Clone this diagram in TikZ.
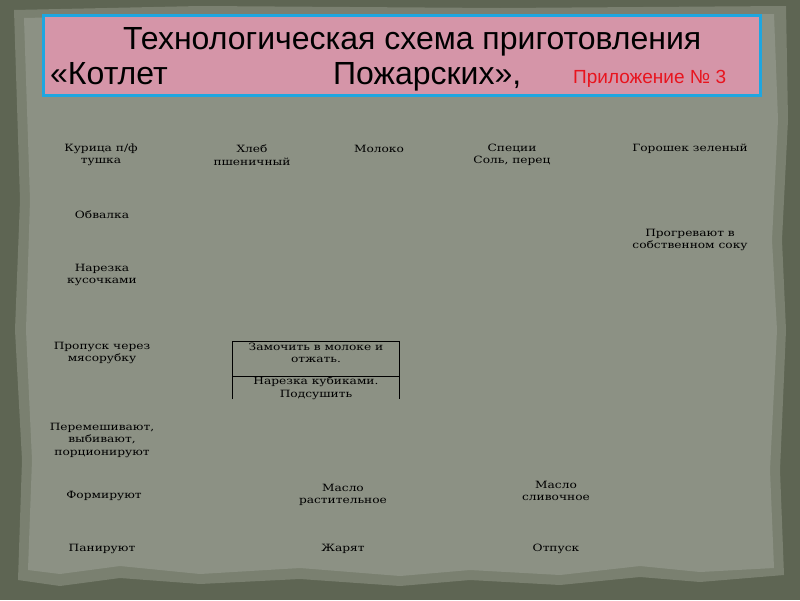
\documentclass[tikz,border=0pt]{standalone}
\usepackage{fontspec}
\setmainfont{DejaVu Serif}[FakeStretch=1.22]
\newfontfamily\titlefont{Liberation Sans}
\definecolor{frame}{HTML}{5E6553}
\definecolor{paper}{HTML}{8C9184}
\definecolor{paperdark}{HTML}{7A8070}
\definecolor{titlepink}{HTML}{D595A8}
\definecolor{titleblue}{HTML}{1EA6E0}
\definecolor{apxred}{HTML}{E8141E}
\tikzset{
  lbl/.style={inner sep=0pt, align=center, font=\fontsize{10}{12.5}\selectfont, text=black},
  boxline/.style={draw=black, line width=0.8pt},
  ttl/.style={anchor=base west, inner sep=0pt, font=\titlefont\fontsize{32}{36}\selectfont},
}
\begin{document}
\begin{tikzpicture}[x=1pt,y=-1pt]
\useasboundingbox (0,0) rectangle (800,600);
% background frame and torn paper
\fill[frame] (0,0) rectangle (800,600);
\fill[paperdark] (14,10) -- (200,6) -- (500,8) -- (786,6) -- (788,120) -- (782,240) -- (786,330) -- (780,470) -- (784,575)
  -- (700,582) -- (640,577) -- (560,585) -- (470,580) -- (400,586) -- (300,579) -- (200,584) -- (120,578) -- (60,586) -- (18,580)
  -- (22,460) -- (15,330) -- (20,200) -- cycle;
\fill[paper] (24,18) -- (200,14) -- (500,16) -- (774,14) -- (778,120) -- (772,240) -- (777,330) -- (770,470) -- (774,568)
  -- (700,572) -- (640,566) -- (560,575) -- (470,570) -- (400,576) -- (300,568) -- (200,574) -- (120,566) -- (60,574) -- (28,570)
  -- (32,460) -- (26,330) -- (30,200) -- cycle;
% title box
\node[draw=titleblue, line width=3pt, fill=titlepink, minimum width=717pt, minimum height=80pt, inner sep=0pt, anchor=north west] (title) at (41.5,13.5) {};
\node[ttl] (t1) at (123,49) {Технологическая схема приготовления};
\node[ttl] (t2) at (50,84) {«Котлет};
\node[ttl] (t3) at (333,84) {Пожарских»,};
\node[anchor=base west, inner sep=0pt, text=apxred, font=\titlefont\fontsize{19}{22}\selectfont] (t4) at (573,83) {Приложение № 3};
% ingredients row
\node[lbl] (chicken) at (101,155) {Курица п/ф\\тушка};
\node[lbl] (bread) at (252,155) {Хлеб\\пшеничный};
\node[lbl] (milk) at (379,149) {Молоко};
\node[lbl] (spice) at (512,155) {Специи\\Соль, перец};
\node[lbl] (peas) at (690,149) {Горошек зеленый};
% left column
\node[lbl] (debone) at (102,215) {Обвалка};
\node[lbl] (warm) at (690,240) {Прогревают в\\собственном соку};
\node[lbl] (cut) at (102,275) {Нарезка\\кусочками};
\node[lbl] (mince) at (102,353) {Пропуск через\\мясорубку};
\node[lbl] (mix) at (102,440) {Перемешивают,\\выбивают,\\порционируют};
\node[lbl] (form) at (104,496) {Формируют};
\node[lbl] (oil) at (343,495) {Масло\\растительное};
\node[lbl] (butter) at (556,491) {Масло\\сливочное};
\node[lbl] (bread2) at (102,549) {Панируют};
\node[lbl] (fry) at (343,549) {Жарят};
\node[lbl] (serve) at (556,549) {Отпуск};
% box with soaked bread
\coordinate (bxtl) at (232,341);
\coordinate (bxtr) at (399,341);
\coordinate (bxml) at (232,376);
\coordinate (bxmr) at (399,376);
\coordinate (bxbl) at (232,399);
\coordinate (bxbr) at (399,399);
\draw[boxline] (bxbl) -- (bxtl) -- (bxtr) -- (bxbr);
\draw[boxline] (bxml) -- (bxmr);
\node[lbl] (soak) at (316,353) {Замочить в молоке и\\отжать.};
\node[lbl] (dice) at (316,388) {Нарезка кубиками.\\Подсушить};
\end{tikzpicture}
\end{document}
